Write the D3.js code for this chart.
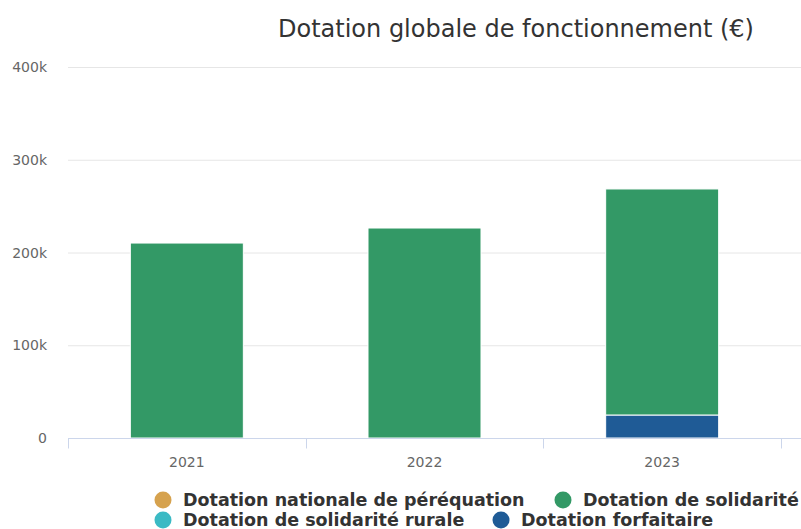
<!DOCTYPE html>
<html>
<head>
<meta charset="utf-8">
<script src="https://cdn.jsdelivr.net/npm/d3@7"></script>
<style>
  body { margin: 0; background: #fff; }
  svg { font-family: "DejaVu Sans", sans-serif; }
</style>
</head>
<body>
<div id="chart"></div>
<script>
// Data
const years = ["2021", "2022", "2023"];
const seriesNames = [
  "Dotation nationale de péréquation",
  "Dotation de solidarité",
  "Dotation de solidarité rurale",
  "Dotation forfaitaire"
];
const seriesColors = ["#d6a24e", "#339966", "#3bbac4", "#1f5b96"];
const perequation = [0, 0, 0];
const solidarite = [210200, 226400, 243700];
const solidariteRurale = [0, 0, 0];
const forfaitaire = [0, 0, 24800];
const yTicks = [0, 100000, 200000, 300000, 400000];

const W = 801, H = 529;
const margin = { top: 67, left: 68, bottom: 91 };
const plotRight = 781;

const svg = d3.select("#chart").append("svg")
  .attr("width", W)
  .attr("height", H);

// title
svg.append("text")
  .attr("x", 516)
  .attr("y", 37)
  .attr("text-anchor", "middle")
  .attr("font-size", 24)
  .attr("fill", "#333")
  .text("Dotation globale de fonctionnement (€)");

const x = d3.scaleBand()
  .domain(years)
  .range([margin.left, plotRight])
  .paddingInner(0)
  .paddingOuter(0);

const y = d3.scaleLinear()
  .domain([0, 400000])
  .range([H - margin.bottom, margin.top]);

// gridlines
svg.append("g")
  .selectAll("line")
  .data(yTicks.slice(1))
  .enter()
  .append("line")
  .attr("x1", margin.left)
  .attr("x2", W)
  .attr("y1", d => y(d) + 0.5)
  .attr("y2", d => y(d) + 0.5)
  .attr("stroke", "#e6e6e6");

// y labels
svg.append("g")
  .selectAll("text")
  .data(yTicks)
  .enter()
  .append("text")
  .attr("x", 47)
  .attr("y", d => y(d) + 5)
  .attr("text-anchor", "end")
  .attr("font-size", 14)
  .attr("fill", "#666")
  .text(d => d === 0 ? "0" : (d / 1000) + "k");

// stacked bars: forfaitaire at the bottom, then the others
const rows = years.map((yr, i) => ({
  year: yr,
  forfaitaire: forfaitaire[i],
  rurale: solidariteRurale[i],
  solidarite: solidarite[i],
  perequation: perequation[i]
}));
const keys = ["forfaitaire", "rurale", "solidarite", "perequation"];
const keyColor = {
  forfaitaire: seriesColors[3],
  rurale: seriesColors[2],
  solidarite: seriesColors[1],
  perequation: seriesColors[0]
};
const stacked = d3.stack().keys(keys)(rows);

const barW = 113;
svg.append("g")
  .selectAll("g")
  .data(stacked)
  .enter()
  .append("g")
  .attr("fill", d => keyColor[d.key])
  .selectAll("rect")
  .data(d => d.filter(s => s[1] - s[0] > 0))
  .enter()
  .append("rect")
  .attr("x", d => x(d.data.year) + (x.bandwidth() - barW) / 2)
  .attr("y", d => y(d[1]))
  .attr("width", barW)
  .attr("height", d => y(d[0]) - y(d[1]))
  .attr("stroke", "#fff")
  .attr("stroke-width", 1);

// x axis
const xAxis = svg.append("g")
  .attr("transform", `translate(0,${y(0) + 0.5})`);
xAxis.append("line")
  .attr("x1", margin.left)
  .attr("x2", W)
  .attr("stroke", "#ccd6eb");
const tickPos = years.map(d => x(d)).concat([plotRight]);
xAxis.selectAll(".tick")
  .data(tickPos)
  .enter()
  .append("line")
  .attr("x1", d => Math.round(d) + 0.5)
  .attr("x2", d => Math.round(d) + 0.5)
  .attr("y1", 0)
  .attr("y2", 10)
  .attr("stroke", "#ccd6eb");
xAxis.selectAll("text")
  .data(years)
  .enter()
  .append("text")
  .attr("x", d => x(d) + x.bandwidth() / 2)
  .attr("y", 28)
  .attr("text-anchor", "middle")
  .attr("font-size", 14)
  .attr("fill", "#666")
  .text(d => d);

// legend
const legendItems = [
  { name: seriesNames[0], color: seriesColors[0], x: 163, y: 500 },
  { name: seriesNames[1], color: seriesColors[1], x: 563, y: 500 },
  { name: seriesNames[2], color: seriesColors[2], x: 163, y: 520 },
  { name: seriesNames[3], color: seriesColors[3], x: 501, y: 520 }
];
const legend = svg.append("g")
  .selectAll("g")
  .data(legendItems)
  .enter()
  .append("g")
  .attr("transform", d => `translate(${d.x},${d.y})`);
legend.append("circle")
  .attr("r", 8.5)
  .attr("fill", d => d.color);
legend.append("text")
  .attr("x", 20)
  .attr("y", 6)
  .attr("font-size", 17.5)
  .attr("font-weight", "bold")
  .attr("fill", "#333")
  .text(d => d.name);
</script>
</body>
</html>
